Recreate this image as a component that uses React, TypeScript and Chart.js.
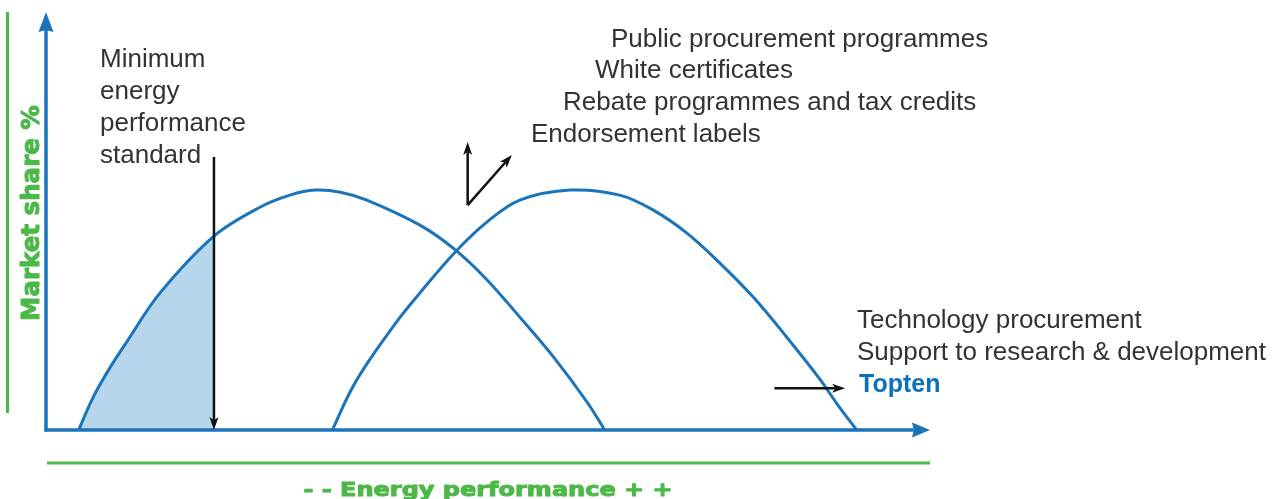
import React, { useEffect, useRef } from "react";
import { Chart, registerables } from "chart.js";

// Energy performance (0–100, left = poor) and market share (0–100)
const currentX = [3.7, 5.3, 7.2, 9.2, 12.9, 19.0, 24.2, 27.6, 30.5, 33.3, 36.3, 42.3, 46.3, 49.9, 53.6, 57.4, 61.2, 63.2];
const currentShare = [0, 7.7, 14.8, 21.3, 32.8, 46.4, 53.3, 56.2, 57.4, 56.9, 55.0, 49.0, 43.1, 35.9, 27.0, 17.5, 6.7, 0];
const shiftedX = [32.4, 34.4, 36.3, 40.0, 42.3, 46.3, 49.9, 53.6, 59.3, 64.9, 68.7, 72.5, 76.2, 80.0, 83.8, 87.6, 89.5, 91.7];
const shiftedShare = [0, 9.1, 15.8, 26.8, 32.8, 42.6, 49.8, 55.0, 57.4, 56.2, 52.6, 47.1, 40.0, 31.8, 22.2, 12.0, 6.2, 0];
const standardX = 19.0;

const standardLabel = ["Minimum", "energy", "performance", "standard"];
const pullLabels = [
  "Public procurement programmes",
  "White certificates",
  "Rebate programmes and tax credits",
  "Endorsement labels",
];
const frontierLabels = ["Technology procurement", "Support to research & development"];
const highlightLabel = "Topten";
const yTitle = "Market share %";
const xTitle = "- - Energy performance + +";

const BLUE = "#1a74bb";
const GREEN = "#4cb848";
const TEXT = "#333333";

// Clip the shaded area to the part below the minimum standard.
// Registered before the built-ins so it runs before the filler draws.
const shadeClip = {
  id: "shadeClip",
  beforeDatasetDraw(chart: any, args: any) {
    if (chart.data.datasets[args.index].label !== "shade") return;
    const a = chart.chartArea;
    const xr = chart.scales.x.getPixelForValue(standardX);
    chart.ctx.save();
    chart.ctx.beginPath();
    chart.ctx.rect(a.left, a.top, xr - a.left, a.bottom - a.top);
    chart.ctx.clip();
  },
  afterDatasetDraw(chart: any, args: any) {
    if (chart.data.datasets[args.index].label !== "shade") return;
    chart.ctx.restore();
  },
};
Chart.register(shadeClip);
Chart.register(...registerables);

function arrow(ctx: CanvasRenderingContext2D, x1: number, y1: number, x2: number, y2: number, len: number, half: number, width: number, color: string, notch = 0.75) {
  const dx = x2 - x1;
  const dy = y2 - y1;
  const d = Math.hypot(dx, dy);
  const ux = dx / d;
  const uy = dy / d;
  const px = -uy;
  const py = ux;
  const bx = x2 - ux * len;
  const by = y2 - uy * len;
  const nx = x2 - ux * len * notch;
  const ny = y2 - uy * len * notch;
  ctx.save();
  ctx.strokeStyle = color;
  ctx.fillStyle = color;
  ctx.lineWidth = width;
  ctx.lineCap = "butt";
  ctx.beginPath();
  ctx.moveTo(x1, y1);
  ctx.lineTo(nx, ny);
  ctx.stroke();
  ctx.beginPath();
  ctx.moveTo(x2, y2);
  ctx.lineTo(bx + px * half, by + py * half);
  ctx.lineTo(nx, ny);
  ctx.lineTo(bx - px * half, by - py * half);
  ctx.closePath();
  ctx.fill();
  ctx.restore();
}

const decor = {
  id: "decor",
  afterDraw(chart: any) {
    const ctx: CanvasRenderingContext2D = chart.ctx;
    const xs = chart.scales.x;
    const ys = chart.scales.y;
    const a = chart.chartArea;
    const X = (v: number) => xs.getPixelForValue(v);
    const Y = (v: number) => ys.getPixelForValue(v);

    // axes
    arrow(ctx, a.left, a.bottom + 1.5, a.left, a.top, 20, 7.5, 3.5, BLUE, 0.9);
    arrow(ctx, a.left - 1.5, a.bottom, a.right, a.bottom, 18, 7.5, 3.5, BLUE, 0.9);

    // green guide lines
    ctx.save();
    ctx.strokeStyle = GREEN;
    ctx.lineWidth = 3;
    ctx.beginPath();
    ctx.moveTo(7.5, 12);
    ctx.lineTo(7.5, 413);
    ctx.moveTo(47, 463);
    ctx.lineTo(930, 463);
    ctx.stroke();

    // titles (heavy green)
    ctx.fillStyle = GREEN;
    ctx.strokeStyle = GREEN;
    ctx.lineWidth = 1;
    ctx.lineJoin = "round";
    ctx.textAlign = "center";
    ctx.textBaseline = "alphabetic";
    ctx.save();
    ctx.translate(39, 213);
    ctx.rotate(-Math.PI / 2);
    ctx.font = "bold 24.5px 'DejaVu Sans'";
    ctx.fillText(yTitle, 0, 0);
    ctx.strokeText(yTitle, 0, 0);
    ctx.restore();
    ctx.save();
    ctx.translate(488, 495.5);
    ctx.scale(1.2, 1);
    ctx.font = "bold 20px 'DejaVu Sans'";
    ctx.lineWidth = 1;
    ctx.fillText(xTitle, 0, 0);
    ctx.strokeText(xTitle, 0, 0);
    ctx.restore();
    ctx.restore();

    // annotation arrows
    arrow(ctx, X(standardX), Y(65.3), X(standardX), Y(0), 13, 4.5, 2.5, "#111");
    arrow(ctx, X(47.7), Y(53.8), X(47.7), Y(68.9), 13, 4.5, 2.5, "#111");
    arrow(ctx, X(47.7), Y(53.8), X(52.7), Y(65.8), 13, 4.5, 2.5, "#111");
    arrow(ctx, X(82.4), Y(10.0), X(90.4), Y(10.0), 13, 4.5, 2.5, "#111");

    // labels
    ctx.save();
    ctx.fillStyle = TEXT;
    ctx.font = "26px 'Liberation Sans'";
    ctx.textAlign = "left";
    ctx.textBaseline = "alphabetic";
    standardLabel.forEach((t, i) => ctx.fillText(t, 100, 67 + i * 32));
    const pullX = [611, 595, 563, 531];
    const pullY = [47, 78, 110, 142];
    pullLabels.forEach((t, i) => ctx.fillText(t, pullX[i], pullY[i]));
    frontierLabels.forEach((t, i) => ctx.fillText(t, 857, 328 + i * 32));
    ctx.fillStyle = "#0b70be";
    ctx.font = "bold 25px 'Liberation Sans'";
    ctx.fillText(highlightLabel, 859, 392);
    ctx.restore();
  },
};

export default function App() {
  const ref = useRef<HTMLCanvasElement | null>(null);

  useEffect(() => {
    if (!ref.current) return;
    const cur = currentX.map((x, i) => ({ x, y: currentShare[i] }));
    const shifted = shiftedX.map((x, i) => ({ x, y: shiftedShare[i] }));

    const chart = new Chart(ref.current, {
      type: "line",
      data: {
        datasets: [
          {
            label: "current",
            data: cur,
            borderColor: BLUE,
            borderWidth: 3,
            pointRadius: 0,
            fill: false,
            tension: 0.35,
          },
          {
            label: "shifted",
            data: shifted,
            borderColor: BLUE,
            borderWidth: 3,
            pointRadius: 0,
            fill: false,
            tension: 0.35,
          },
          {
            label: "shade",
            data: cur,
            borderWidth: 0,
            borderColor: "rgba(0,0,0,0)",
            backgroundColor: "#b6d6ec",
            fill: "origin",
            pointRadius: 0,
            tension: 0.35,
          },
        ],
      },
      options: {
        responsive: false,
        animation: false,
        events: [],
        layout: { padding: { left: 46, right: 348, top: 12, bottom: 69 } },
        plugins: { legend: { display: false }, tooltip: { enabled: false } },
        scales: {
          x: { type: "linear", min: 0, max: 100, display: false },
          y: { type: "linear", min: 0, max: 100, display: false },
        },
      },
      plugins: [decor],
    });
    return () => chart.destroy();
  }, []);

  return (
    <div style={{ position: "fixed", left: 0, top: 0, width: 1278, height: 499, background: "#fff" }}>
      <canvas ref={ref} width={1278} height={499} style={{ display: "block" }} />
    </div>
  );
}
